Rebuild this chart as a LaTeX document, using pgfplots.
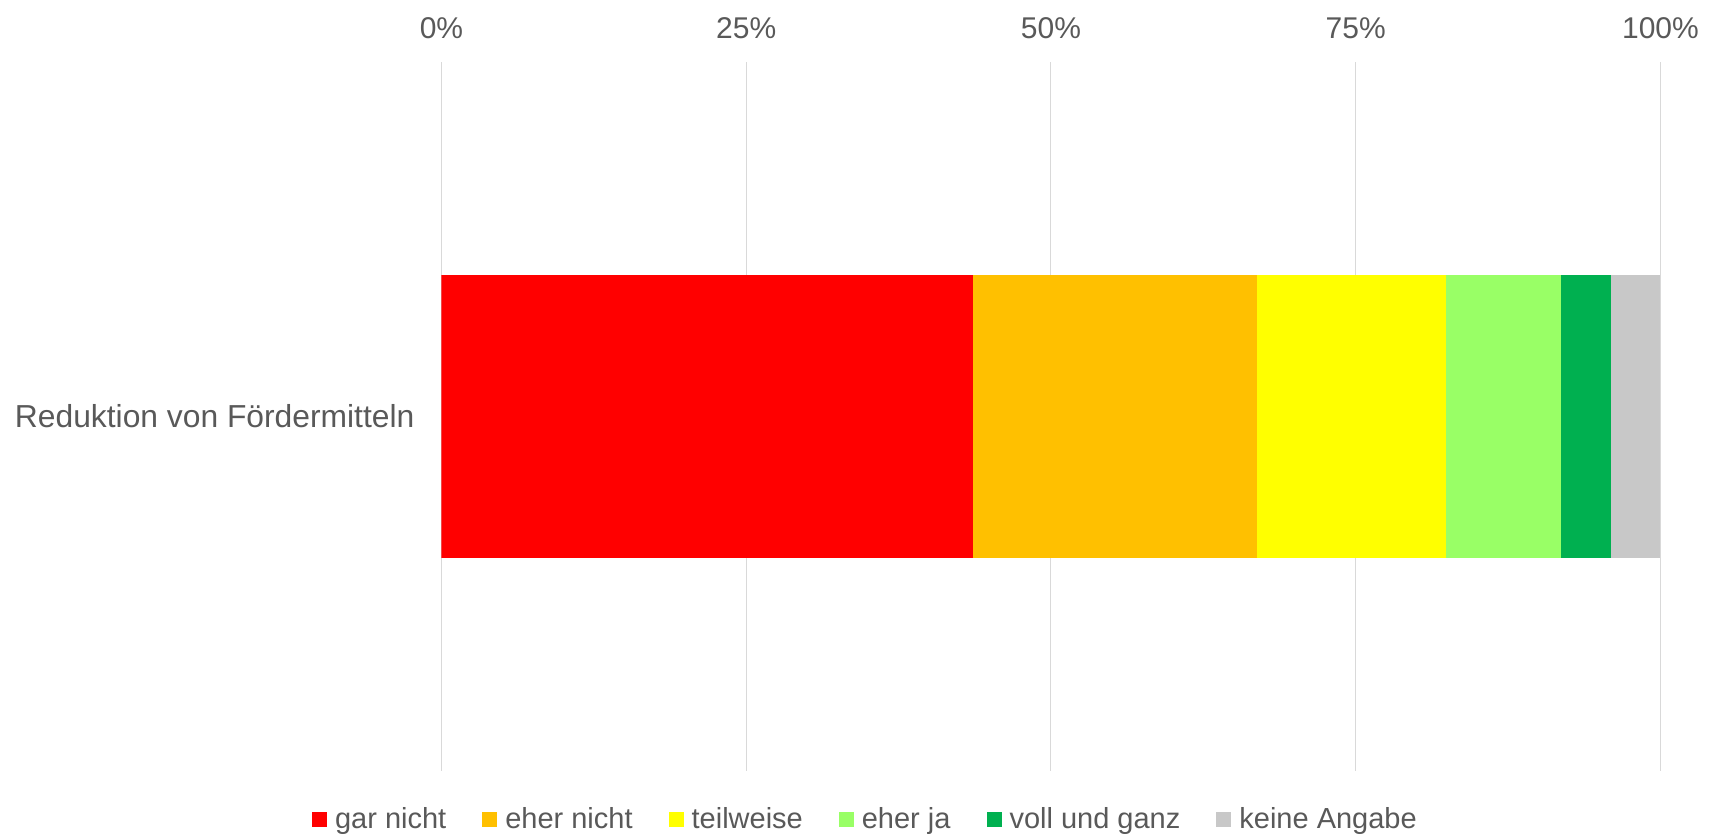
\documentclass[border=0pt]{standalone}
\usepackage{pgfplots}
\pgfplotsset{compat=1.18}
\usepackage{fontspec}
\setmainfont{Liberation Sans}
\definecolor{cRed}{HTML}{FF0000}
\definecolor{cOrange}{HTML}{FFC000}
\definecolor{cYellow}{HTML}{FFFF00}
\definecolor{cLight}{HTML}{99FF66}
\definecolor{cGreen}{HTML}{00B050}
\definecolor{cGray}{HTML}{C8C8C8}
\definecolor{txt}{HTML}{595959}
\definecolor{gridc}{HTML}{D9D9D9}
\begin{document}
\begin{tikzpicture}
\useasboundingbox (-220.75pt,-34pt) rectangle (636.75pt,385.5pt);
\begin{axis}[
  xbar stacked,
  scale only axis,
  width=609.5pt, height=354.5pt,
  xmin=0, xmax=100, ymin=-1, ymax=1,
  bar width=141.25pt,
  axis line style={draw=none},
  major tick length=0pt,
  xtick={0,25,50,75,100},
  xticklabel pos=top,
  xticklabel={\pgfmathprintnumber{\tick}\%},
  xticklabel style={font=\fontsize{15}{18}\selectfont, text=txt, yshift=8pt},
  ytick={0}, yticklabels={Reduktion von Fördermitteln},
  yticklabel style={font=\fontsize{15.9}{18}\selectfont, text=txt, xshift=-10pt},
  xmajorgrids, grid style={color=gridc, line width=0.5pt},
  /pgf/number format/assume math mode=true,
  legend style={at={(0.3486,0)}, anchor=center, yshift=-24.5pt, draw=none, fill=none,
    legend columns=-1, font=\fontsize{14.5}{17}\selectfont, text=txt,
    /tikz/every even column/.append style={column sep=16pt}},
  legend image code/.code={\fill[#1] (0pt,-3.75pt) rectangle (7.5pt,3.75pt); \path (9.5pt,0pt);},
]
\addplot[fill=cRed, draw=none] coordinates {(43.6,0)};
\addplot[fill=cOrange, draw=none] coordinates {(23.3,0)};
\addplot[fill=cYellow, draw=none] coordinates {(15.5,0)};
\addplot[fill=cLight, draw=none] coordinates {(9.4,0)};
\addplot[fill=cGreen, draw=none] coordinates {(4.1,0)};
\addplot[fill=cGray, draw=none] coordinates {(4.1,0)};
\legend{gar nicht, eher nicht, teilweise, eher ja, voll und ganz, keine Angabe}
\end{axis}
\end{tikzpicture}
\end{document}
